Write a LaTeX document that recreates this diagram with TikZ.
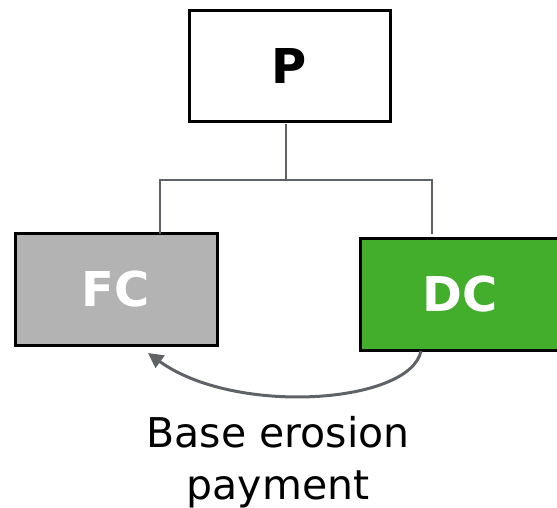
\documentclass[tikz,border=0pt]{standalone}
\usepackage{fontspec}
\setmainfont{DejaVu Sans}
\usetikzlibrary{arrows.meta}
\definecolor{fcgray}{HTML}{B3B3B3}
\definecolor{dcgreen}{HTML}{42AE2C}
\definecolor{linegray}{HTML}{5F6368}
\tikzset{
  box/.style={draw=black, line width=3pt, minimum width=201pt, minimum height=111pt, inner sep=0pt, font=\fontsize{48}{48}\selectfont\bfseries},
  conn/.style={draw=linegray, line width=2.2pt},
  payarrow/.style={draw=linegray, line width=3pt, -{Triangle[length=15pt,width=15pt]}},
}
\begin{document}
\begin{tikzpicture}[x=1pt,y=-1pt]
\useasboundingbox (0,0) rectangle (557,508);
\node[box, fill=white, text=black] (P) at (289.5,66.5) {P};
\node[box, fill=fcgray, text=white, minimum width=202pt, minimum height=112pt] (FC) at (116,289) {FC};
\node[box, fill=dcgreen, text=white, minimum width=202pt, minimum height=112pt] (DC) at (461,294) {};
\node[text=white, font=\fontsize{48}{48}\selectfont\bfseries] (DCt) at (460,294) {DC};
\coordinate (J) at (286,180);
\coordinate (FCin) at (160,234);
\coordinate (DCin) at (432,234);
\draw[conn] (286,124) -- (J);
\draw[conn] (J) -| (FCin);
\draw[conn] (J) -| (DCin);
\coordinate (S) at (421,351);
\coordinate (T) at (148,353);
\draw[payarrow] (S) .. controls (410,404) and (235,416) .. (T);
\node[align=center, inner sep=0pt, font=\fontsize{41}{52}\selectfont] (L) at (278,462) {Base erosion\\payment};
\end{tikzpicture}
\end{document}
